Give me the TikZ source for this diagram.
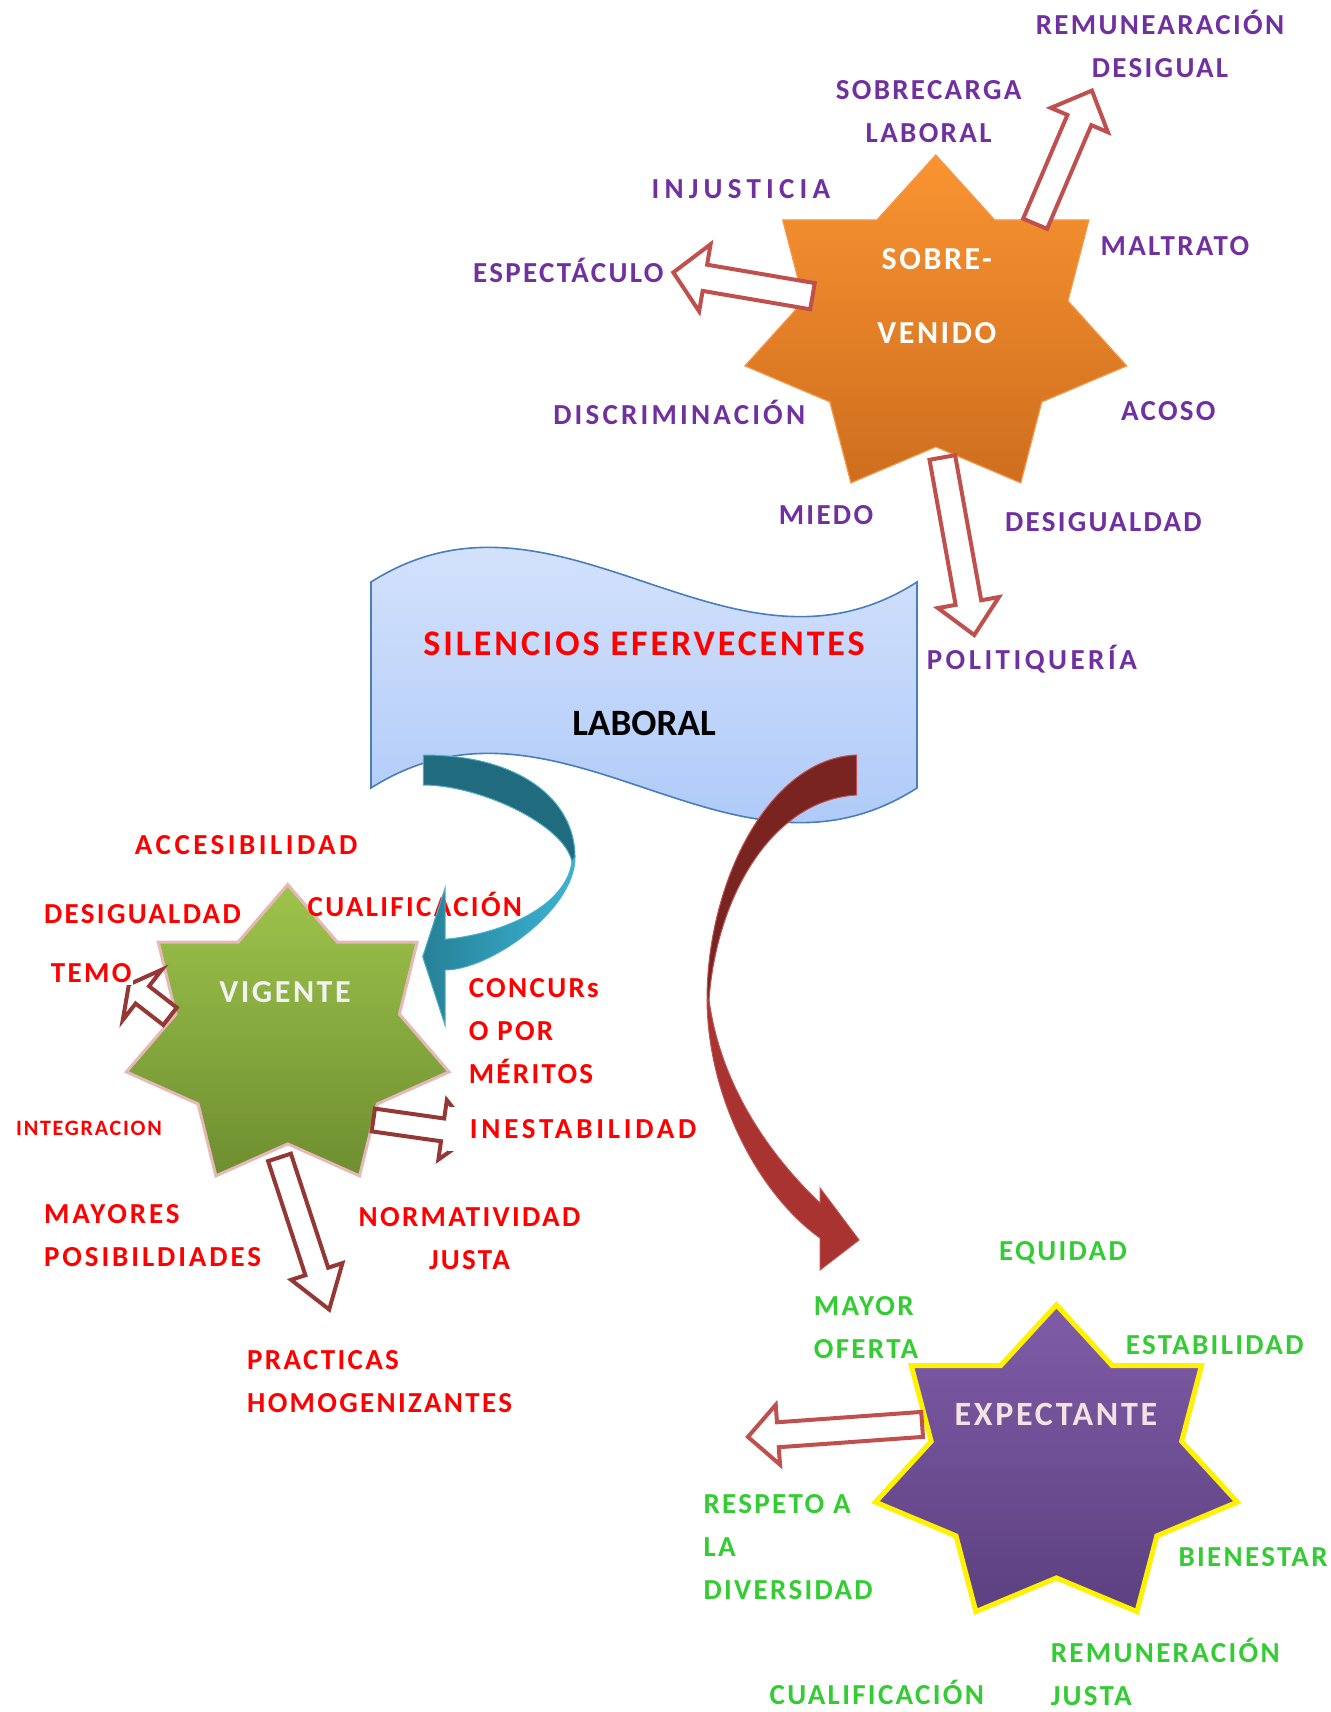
\documentclass[tikz,border=0pt]{standalone}
\usepackage{fontspec}
\setmainfont{Carlito}[LetterSpace=8]
\newfontfamily\plainfont{Carlito}
\usetikzlibrary{shapes.geometric}

\definecolor{lilac}{RGB}{112,48,160}
\definecolor{vivid}{RGB}{255,0,0}
\definecolor{leaf}{RGB}{51,204,51}
\definecolor{brick}{RGB}{192,80,77}
\definecolor{darkbrick}{RGB}{149,55,53}
\definecolor{orangetop}{RGB}{250,148,50}
\definecolor{orangebot}{RGB}{206,110,30}
\definecolor{orangeline}{RGB}{247,150,70}
\definecolor{greentop}{RGB}{158,196,76}
\definecolor{greenbot}{RGB}{110,142,48}
\definecolor{greenline}{RGB}{230,185,184}
\definecolor{purpletop}{RGB}{128,92,168}
\definecolor{purplebot}{RGB}{92,64,128}
\definecolor{bannertop}{RGB}{222,232,252}
\definecolor{bannerbot}{RGB}{165,196,248}
\definecolor{bannerline}{RGB}{74,126,187}
\definecolor{tealdark}{RGB}{32,108,126}
\definecolor{tealmid}{RGB}{38,128,150}
\definecolor{cyanlight}{RGB}{58,181,214}
\definecolor{tealline}{RGB}{75,172,198}
\definecolor{maroondark}{RGB}{122,36,33}
\definecolor{maroonlight}{RGB}{168,51,48}
\definecolor{offwhite}{RGB}{242,242,242}
\definecolor{pinkwhite}{RGB}{242,226,225}

\tikzset{
  starbox/.style={star, star points=7, star point ratio=1.445, inner sep=0pt},
  lbl/.style={inner sep=0pt, font=\bfseries\fontsize{14.5}{21.5}\selectfont},
  spaced/.style={font=\bfseries\fontsize{14.5}{21.5}\selectfont\addfontfeature{LetterSpace=#1}},
  startext/.style={inner sep=0pt, align=center, font=\bfseries\fontsize{16}{37}\selectfont},
  hollow/.style={line width=2pt, fill=white, line join=miter}
}

% hollow block arrow: tail, angle, length, colour, shaft half width, head half width, head length
\newcommand{\fatarrow}[7]{%
  \draw[hollow, draw=#4, shift={(#1)}, rotate=#2]
    (0,-#5) -- (#3-#7,-#5) -- (#3-#7,-#6) -- (#3,0) -- (#3-#7,#6) -- (#3-#7,#5) -- (0,#5) -- cycle;
}

\begin{document}
\begin{tikzpicture}[x=0.5pt,y=-0.5pt]
\useasboundingbox (0,0) rectangle (1331,1712);

% banner
\draw[draw=bannerline, line width=0.8pt, top color=bannertop, bottom color=bannerbot]
  (371,582) .. controls (560,462) and (730,702) .. (917,582)
  -- (917,788) .. controls (730,908) and (560,668) .. (371,788) -- cycle;
\node[inner sep=0pt, text=vivid, font=\bfseries\fontsize{18}{20}\selectfont] (silencios) at (644,644) {SILENCIOS EFERVECENTES};
\node[inner sep=0pt, font=\plainfont\bfseries\fontsize{18.6}{20}\selectfont] (laboral) at (644,723) {LABORAL};

% stars
\node[starbox, minimum size=172.5pt, xscale=1.135, top color=orangetop, bottom color=orangebot, draw=orangeline, line width=0.6pt] (sobre) at (935.8,327.5) {};
\node[starbox, minimum size=153.3pt, xscale=1.08, top color=greentop, bottom color=greenbot, draw=greenline, line width=1.5pt] (vigente) at (287.7,1037.8) {};
\node[starbox, minimum size=161.4pt, xscale=1.15, top color=purpletop, bottom color=purplebot, draw=yellow, line width=2.5pt] (expectante) at (1056.4,1466.2) {};

\node[startext, text=white] (sobretxt) at (936.8,295.9) {SOBRE-\\VENIDO};
\node[startext, text=offwhite] (vigtxt) at (285,992.5) {VIGENTE};
\node[startext, text=pinkwhite, font=\bfseries\fontsize{17}{20}\selectfont] (exptxt) at (1055.9,1414) {EXPECTANTE};

% purple labels
\node[lbl, text=lilac, align=center] (remdes) at (1160,43.7) {REMUNEARACIÓN\\DESIGUAL};
\node[lbl, text=lilac, align=center] (sobrecarga) at (928.6,111.4) {SOBRECARGA\\LABORAL};
\node[lbl, spaced=18, text=lilac] (injusticia) at (740.9,188.9) {INJUSTICIA};
\node[lbl, text=lilac] (maltrato) at (1174.9,245.7) {MALTRATO};
\node[lbl, text=lilac] (espectaculo) at (568.3,270.8) {ESPECTÁCULO};
\node[lbl, spaced=11, text=lilac] (discrim) at (679.2,412.7) {DISCRIMINACIÓN};
\node[lbl, text=lilac] (acoso) at (1168.3,410.6) {ACOSO};
\node[lbl, text=lilac] (miedo) at (826,515.4) {MIEDO};
\node[lbl, text=lilac] (desig) at (1103.4,521.9) {DESIGUALDAD};
\node[lbl, spaced=12, text=lilac] (politiq) at (1031.8,659.5) {POLITIQUERÍA};

% arrows of the orange star
\fatarrow{1035.1,223.8}{66.9}{144.8}{brick}{13}{31}{32}
\fatarrow{812.5,296.2}{170.3}{141.2}{brick}{13.3}{34}{32}
\fatarrow{942.3,457.5}{-79.8}{180.4}{brick}{13}{31}{33}

% arrows of the green star
\fatarrow{170,1016.3}{142.2}{52}{darkbrick}{11}{32}{17}
\fatarrow{373.3,1120}{-8.1}{102}{darkbrick}{11.5}{30}{32}
\fatarrow{279.5,1157.4}{-71.9}{160}{darkbrick}{12}{27}{40}

% arrow of the purple star
\fatarrow{922.1,1424.4}{184.1}{174.6}{brick}{12.5}{30}{30}

% red labels
\node[lbl, spaced=12, text=vivid] (acces) at (246.2,845.1) {ACCESIBILIDAD};
\node[lbl, text=vivid] (desigr) at (142.5,913.9) {DESIGUALDAD};
\node[lbl, text=vivid] (cualif) at (414.9,904.1) {CUALIFICACIÓN};
\node[lbl, text=vivid, fill=white, inner sep=1pt] (temo) at (91.2,972.9) {TEMO};
\node[lbl, text=vivid, align=left, anchor=west] (concurso) at (468.4,1030.8) {CONCURs\\O POR\\MÉRITOS};
\node[lbl, text=vivid, font=\bfseries\fontsize{11}{13}\selectfont] (integ) at (89,1127.9) {INTEGRACION};
\node[lbl, spaced=13, text=vivid, fill=white, inner xsep=11pt, inner ysep=6pt, anchor=west] (inest) at (447.5,1129) {INESTABILIDAD};
\node[lbl, spaced=10, text=vivid, align=left, anchor=west] (mayores) at (43.7,1235.5) {MAYORES\\POSIBILDIADES};
\node[lbl, text=vivid, align=center] (normat) at (469.5,1238.8) {NORMATIVIDAD\\JUSTA};
\node[lbl, text=vivid, align=left, anchor=west] (practicas) at (246.8,1381.8) {PRACTICAS\\HOMOGENIZANTES};

% green labels
\node[lbl, text=leaf] (equidad) at (1063,1252.4) {EQUIDAD};
\node[lbl, text=leaf, align=left, anchor=west] (oferta) at (813.5,1327.2) {MAYOR\\OFERTA};
\node[lbl, text=leaf] (estab) at (1214.7,1345.2) {ESTABILIDAD};
\node[lbl, text=leaf, align=left, anchor=west] (respeto) at (703.2,1547.2) {RESPETO A\\LA\\DIVERSIDAD};
\node[lbl, text=leaf, anchor=west] (bienestar) at (1178.2,1557) {BIENESTAR};
\node[lbl, text=leaf, align=left, anchor=west] (remjusta) at (1050.4,1672.3) {REMUNERACIÓN\\JUSTA};
\node[lbl, text=leaf] (cualifg) at (876.8,1692.4) {CUALIFICACIÓN};

% curved arrow to the green star
\draw[draw=tealline, line width=0.5pt, fill=tealdark]
  (423.3,755) .. controls (520,755) and (575,800) .. (575,857)
  -- (572,862) .. controls (565,825) and (480,785) .. (423.3,785) -- cycle;
\draw[draw=tealline, line width=0.5pt, left color=tealmid, right color=cyanlight]
  (575,857) .. controls (575,910) and (490,970) .. (445,970)
  -- (445,1025) -- (422.7,956.7) -- (445,888.3) -- (445,939.3)
  .. controls (495,935) and (565,910) .. (572,862) -- cycle;

% curved arrow to the purple star
\draw[draw=brick, line width=0.5pt, fill=maroondark]
  (856.7,755) .. controls (770,758) and (707,880) .. (707,1000)
  -- (709,1000) .. controls (716,900) and (770,800) .. (856.7,795) -- cycle;
\draw[draw=brick, line width=0.5pt, fill=maroonlight]
  (707,1000) .. controls (708,1100) and (760,1195) .. (820,1238)
  -- (820,1270) -- (859,1240) -- (820,1188) -- (820,1203)
  .. controls (780,1165) and (722,1095) .. (709,1000) -- cycle;

\end{tikzpicture}
\end{document}
